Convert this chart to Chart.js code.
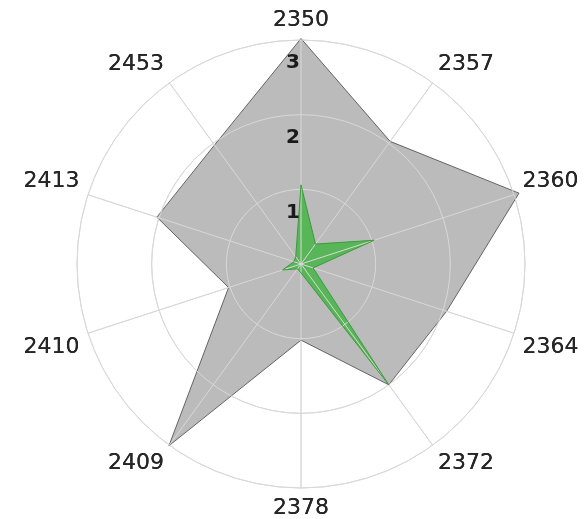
<!DOCTYPE html>
<html lang="en">
<head>
  <meta charset="UTF-8">
  <title>Radar</title>
  <script src="https://cdn.jsdelivr.net/npm/chart.js"></script>
  <style>
    html, body { margin: 0; padding: 0; background: #fff; }
    #wrap { width: 587px; height: 519px; }
  </style>
</head>
<body>
  <div id="wrap"><canvas id="radarChart"></canvas></div>

  <script>
    const categories = ['2350', '2357', '2360', '2364', '2372', '2378', '2409', '2410', '2413', '2453'];
    const grayValues = [3.02, 2.03, 3.07, 2.05, 2.0, 1.02, 3.01, 1.02, 2.03, 1.97];
    const greenValues = [1.06, 0.33, 1.03, 0.17, 2.0, 0.12, 0.08, 0.26, 0.1, 0.12];
    const tickValues = [1, 2, 3];

    // the grid shows through the gray area but stays under the green one,
    // so redraw the scale's own grid just before the green dataset
    const gridOverGray = {
      id: 'gridOverGray',
      beforeDatasetDraw(chart, args) {
        if (args.index === 0) {
          chart.scales.r.drawGrid();
        }
      }
    };

    // tick numbers sit just inside each ring, a bit left of the top spoke
    const tickLabels = {
      id: 'tickLabels',
      afterDatasetsDraw(chart) {
        const scale = chart.scales.r;
        const ctx = chart.ctx;
        ctx.save();
        ctx.font = 'bold 20px "DejaVu Sans"';
        ctx.fillStyle = '#1a1a1a';
        ctx.textAlign = 'center';
        ctx.textBaseline = 'middle';
        tickValues.forEach(v => {
          const d = scale.getDistanceFromCenterForValue(v);
          ctx.fillText(String(v), scale.xCenter - 8, scale.yCenter - d + 23);
        });
        ctx.restore();
      }
    };

    const ctx = document.getElementById('radarChart').getContext('2d');
    new Chart(ctx, {
      type: 'radar',
      data: {
        labels: categories,
        datasets: [
          {
            data: greenValues,
            backgroundColor: 'rgb(88,182,88)',
            borderColor: 'rgb(60,155,60)',
            borderWidth: 1,
            pointRadius: 0,
            fill: true,
            order: 0
          },
          {
            data: grayValues,
            backgroundColor: '#bbbbbb',
            borderColor: 'rgba(80,80,80,0.85)',
            borderWidth: 1,
            pointRadius: 0,
            fill: true,
            order: 1
          }
        ]
      },
      options: {
        responsive: true,
        maintainAspectRatio: false,
        animation: false,
        layout: { padding: { top: 9, left: 15 } },
        plugins: {
          legend: { display: false },
          tooltip: { enabled: false }
        },
        scales: {
          r: {
            min: 0,
            max: 3,
            ticks: { display: false, stepSize: 1 },
            grid: { circular: true, color: '#d8d8d8', lineWidth: 1 },
            angleLines: { color: '#d8d8d8', lineWidth: 1 },
            pointLabels: {
              font: { family: 'DejaVu Sans', size: 22, lineHeight: 1 },
              color: '#262626',
              padding: 9
            }
          }
        }
      },
      plugins: [gridOverGray, tickLabels]
    });
  </script>
</body>
</html>
